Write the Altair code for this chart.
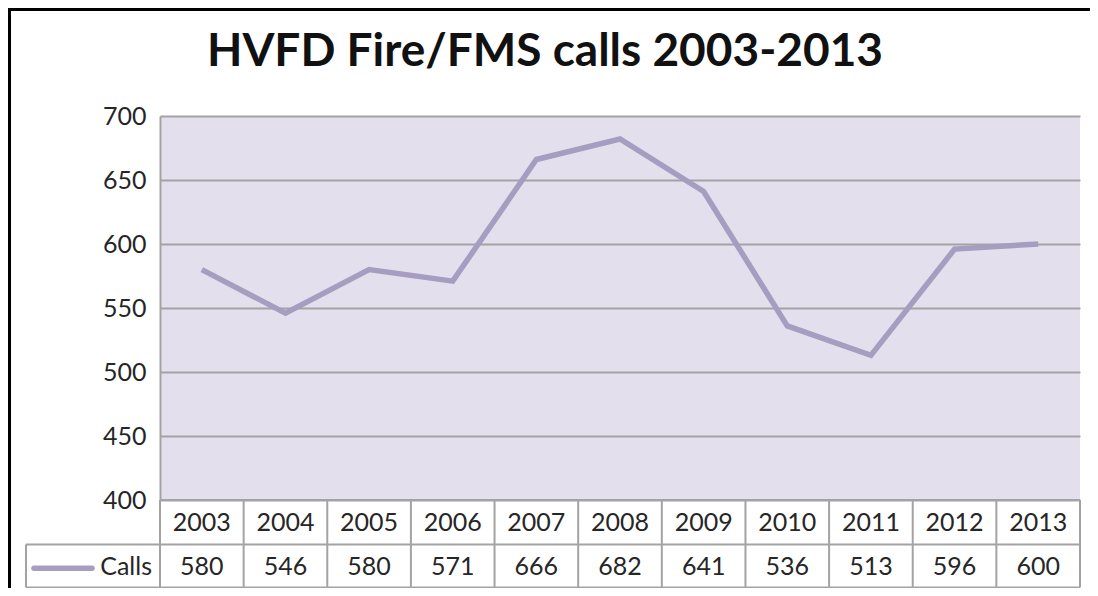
import altair as alt
import pandas as pd

years = ["2003", "2004", "2005", "2006", "2007", "2008", "2009", "2010", "2011", "2012", "2013"]
calls = [580, 546, 580, 571, 666, 682, 641, 536, 513, 596, 600]
y_ticks = [400, 450, 500, 550, 600, 650, 700]
title_text = "HVFD Fire/FMS calls 2003-2013"
series_name = "Calls"

df = pd.DataFrame({"year": years, "calls": calls})

W, H = 920, 384
ROW = 44.5
BOTTOM = H + 2 * ROW - 1.5
LINE_COLOR = "#A69DC0"
GRID = "#A3A3A3"
FONT = "Lato"
FS = 25

xscale = alt.Scale(type="band", domain=years, paddingInner=0, paddingOuter=0)
yscale = alt.Scale(domain=[400, 700], nice=False, zero=False)


def X(bp):
    return alt.X("year:N", scale=xscale, axis=None, bandPosition=bp)


base = alt.Chart(df)

line = base.mark_line(color=LINE_COLOR, strokeWidth=5.5).encode(
    x=X(0.5),
    y=alt.Y("calls:Q", scale=yscale, title=None,
            axis=alt.Axis(values=y_ticks, grid=True, gridColor=GRID, gridWidth=2,
                          domain=True, domainColor=GRID, domainWidth=2,
                          ticks=False, labelPadding=14, labelFontSize=FS,
                          labelFont=FONT, labelColor="#262626")),
)

year_text = base.mark_text(fontSize=FS, font=FONT, color="#262626", baseline="middle").encode(
    x=X(0.5),
    y=alt.value(H + ROW / 2 + 1),
    text="year:N",
)
val_text = base.mark_text(fontSize=FS, font=FONT, color="#262626", baseline="middle").encode(
    x=X(0.5),
    y=alt.value(H + ROW * 1.5 + 0.5),
    text="calls:Q",
)
vrules = base.mark_rule(color=GRID, strokeWidth=2).encode(
    x=X(0),
    y=alt.value(H), y2=alt.value(BOTTOM),
)

frame = alt.Chart(pd.DataFrame({"k": [0]}))
right_rule = frame.mark_rule(color=GRID, strokeWidth=2).encode(
    x=alt.value(W), y=alt.value(H), y2=alt.value(BOTTOM))
left_cell_rule = frame.mark_rule(color=GRID, strokeWidth=2).encode(
    x=alt.value(-134), y=alt.value(H + ROW), y2=alt.value(BOTTOM))
h1 = frame.mark_rule(color=GRID, strokeWidth=2).encode(
    x=alt.value(0), x2=alt.value(W), y=alt.value(H))
h2 = frame.mark_rule(color=GRID, strokeWidth=2).encode(
    x=alt.value(-134), x2=alt.value(W), y=alt.value(H + ROW))
h3 = frame.mark_rule(color=GRID, strokeWidth=2).encode(
    x=alt.value(-134), x2=alt.value(W), y=alt.value(BOTTOM))

legend_line = frame.mark_rule(color=LINE_COLOR, strokeWidth=5.5, strokeCap="round").encode(
    x=alt.value(-126), x2=alt.value(-68), y=alt.value(H + ROW * 1.5 + 1.5))
legend_text = alt.Chart(pd.DataFrame({"t": [series_name]})).mark_text(
    fontSize=FS, font=FONT, color="#262626", align="right", baseline="middle").encode(
    x=alt.value(-8), y=alt.value(H + ROW * 1.5 + 0.5), text="t:N")

title = alt.Chart(pd.DataFrame({"t": [title_text]})).mark_text(
    fontSize=46, font=FONT, fontWeight="bold", color="#111111", align="center", baseline="middle").encode(
    x=alt.value(385), y=alt.value(-64), text="t:N")

border_top = frame.mark_rule(color="#000000", strokeWidth=3).encode(
    x=alt.value(-152), x2=alt.value(960), y=alt.value(-106.5))
border_left = frame.mark_rule(color="#000000", strokeWidth=3).encode(
    x=alt.value(-150.5), y=alt.value(-108), y2=alt.value(500))

chart = alt.layer(
    line, year_text, val_text, vrules,
    right_rule, left_cell_rule, h1, h2, h3,
    legend_line, legend_text, title, border_top, border_left,
).properties(
    width=W, height=H,
    autosize=alt.AutoSizeParams(type="none"),
    padding={"left": 152, "top": 108, "right": 10, "bottom": 88},
    background="#FFFFFF",
).configure_view(
    fill="#E4DFEC", strokeWidth=0,
)

chart.save("out.html", embed_options={"renderer": "svg", "actions": False})
